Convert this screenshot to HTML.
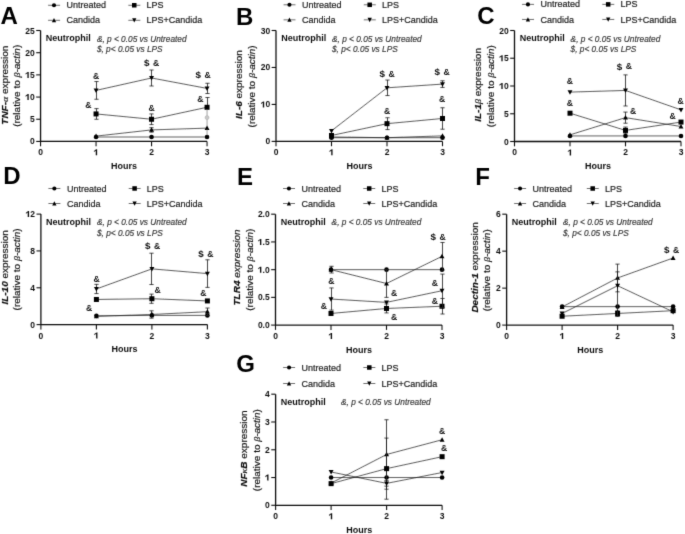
<!DOCTYPE html>
<html><head><meta charset="utf-8"><style>
html,body{margin:0;padding:0;background:#fff;}
svg{display:block;font-family:"Liberation Sans", sans-serif;}
text{stroke-width:0.18px;}
</style></head><body>
<svg width="685" height="534" viewBox="0 0 685 534">
<defs><filter id="bl" x="0" y="0" width="100%" height="100%" filterUnits="userSpaceOnUse"><feConvolveMatrix order="3" kernelMatrix="0.01134 0.08382 0.01134 0.08382 0.61935 0.08382 0.01134 0.08382 0.01134" edgeMode="duplicate" preserveAlpha="false"/></filter></defs>
<rect width="685" height="534" fill="#fff"/>
<g filter="url(#bl)">
<text x="0.4" y="23.8" font-size="24" font-weight="bold" fill="#000">A</text>
<line x1="48.10" y1="5.26" x2="60.05" y2="5.26" stroke="#333" stroke-width="0.7"/>
<circle cx="54.00" cy="5.26" r="2.05" fill="#000"/>
<text transform="translate(66.55,8.36) scale(1,1.1)" x="0" y="0" font-size="9.0" fill="#1a1a1a" stroke="#1a1a1a">Untreated</text>
<line x1="48.10" y1="20.30" x2="60.05" y2="20.30" stroke="#333" stroke-width="0.7"/>
<path d="M54.00,18.00 L56.15,22.30 L51.85,22.30 Z" fill="#000"/>
<text transform="translate(66.55,23.40) scale(1,1.1)" x="0" y="0" font-size="9.0" fill="#1a1a1a" stroke="#1a1a1a">Candida</text>
<line x1="128.35" y1="5.26" x2="140.30" y2="5.26" stroke="#333" stroke-width="0.7"/>
<rect x="132.00" y="3.01" width="4.50" height="4.50" fill="#000"/>
<text transform="translate(146.45,8.36) scale(1,1.1)" x="0" y="0" font-size="9.0" fill="#1a1a1a" stroke="#1a1a1a">LPS</text>
<line x1="128.35" y1="20.30" x2="140.30" y2="20.30" stroke="#333" stroke-width="0.7"/>
<path d="M134.25,22.60 L136.40,18.30 L132.10,18.30 Z" fill="#000"/>
<text transform="translate(146.45,23.40) scale(1,1.1)" x="0" y="0" font-size="9.0" fill="#1a1a1a" stroke="#1a1a1a">LPS+Candida</text>
<text x="45.75" y="41.00" font-size="9.0" font-weight="bold" fill="#111">Neutrophil</text>
<text x="96.90" y="41.70" font-size="8.3" font-style="italic" fill="#3a3a3a" stroke="#3a3a3a">&amp;, p &lt; 0.05 vs Untreated</text>
<text x="96.90" y="51.90" font-size="8.3" font-style="italic" fill="#3a3a3a" stroke="#3a3a3a">$, p&lt; 0.05 vs LPS</text>
<path d="M40.55,30.50 L40.55,141.45 L207.05,141.45" fill="none" stroke="#111" stroke-width="1.3"/>
<line x1="36.20" y1="141.45" x2="40.55" y2="141.45" stroke="#111" stroke-width="1.1"/>
<text x="30.02" y="144.45" font-size="8.5" font-weight="bold" fill="#111" xml:space="preserve">0</text>
<line x1="36.20" y1="119.26" x2="40.55" y2="119.26" stroke="#111" stroke-width="1.1"/>
<text x="30.02" y="122.26" font-size="8.5" font-weight="bold" fill="#111" xml:space="preserve">5</text>
<line x1="36.20" y1="97.07" x2="40.55" y2="97.07" stroke="#111" stroke-width="1.1"/>
<text x="25.30" y="100.07" font-size="8.5" font-weight="bold" fill="#111" xml:space="preserve"> 0</text><path d="M27.38,100.07 L28.74,100.07 L28.74,94.09 L27.76,94.09 L25.55,95.65 L25.55,96.75 L27.38,95.44 Z" fill="#111"/>
<line x1="36.20" y1="74.88" x2="40.55" y2="74.88" stroke="#111" stroke-width="1.1"/>
<text x="25.30" y="77.88" font-size="8.5" font-weight="bold" fill="#111" xml:space="preserve"> 5</text><path d="M27.38,77.88 L28.74,77.88 L28.74,71.90 L27.76,71.90 L25.55,73.46 L25.55,74.56 L27.38,73.25 Z" fill="#111"/>
<line x1="36.20" y1="52.69" x2="40.55" y2="52.69" stroke="#111" stroke-width="1.1"/>
<text x="25.30" y="55.69" font-size="8.5" font-weight="bold" fill="#111" xml:space="preserve">20</text>
<line x1="36.20" y1="30.50" x2="40.55" y2="30.50" stroke="#111" stroke-width="1.1"/>
<text x="25.30" y="33.50" font-size="8.5" font-weight="bold" fill="#111" xml:space="preserve">25</text>
<line x1="40.55" y1="141.45" x2="40.55" y2="146.25" stroke="#111" stroke-width="1.1"/>
<text x="38.19" y="155.35" font-size="8.5" font-weight="bold" fill="#111" xml:space="preserve">0</text>
<line x1="96.05" y1="141.45" x2="96.05" y2="146.25" stroke="#111" stroke-width="1.1"/>
<text x="93.69" y="155.35" font-size="8.5" font-weight="bold" fill="#111" xml:space="preserve"> </text><path d="M95.77,155.35 L97.13,155.35 L97.13,149.37 L96.15,149.37 L93.94,150.93 L93.94,152.03 L95.77,150.72 Z" fill="#111"/>
<line x1="151.55" y1="141.45" x2="151.55" y2="146.25" stroke="#111" stroke-width="1.1"/>
<text x="149.19" y="155.35" font-size="8.5" font-weight="bold" fill="#111" xml:space="preserve">2</text>
<line x1="207.05" y1="141.45" x2="207.05" y2="146.25" stroke="#111" stroke-width="1.1"/>
<text x="204.69" y="155.35" font-size="8.5" font-weight="bold" fill="#111" xml:space="preserve">3</text>
<text transform="translate(124.10,169.05) scale(1,1.1)" x="0" y="0" font-size="9.0" font-weight="bold" text-anchor="middle" fill="#111">Hours</text>
<text transform="translate(8.30,85.20) rotate(-90) scale(1.11,1)" text-anchor="middle" font-size="9.0" fill="#111" stroke="#111"><tspan font-style="italic" font-weight="bold">TNF-</tspan><tspan font-style="italic" font-family="Liberation Serif, serif">α</tspan><tspan > expression</tspan></text>
<text transform="translate(19.50,85.80) rotate(-90) scale(1.11,1)" text-anchor="middle" font-size="9.0" fill="#111" stroke="#111">(relative to <tspan font-style="italic" font-family="Liberation Serif, serif">β</tspan><tspan font-style="italic">-actin</tspan>)</text>
<line x1="207.05" y1="107.28" x2="207.05" y2="137.01" stroke="#888" stroke-width="0.8"/><circle cx="207.05" cy="117.6" r="2.0" fill="#c8c8c8" stroke="#aaa" stroke-width="0.5"/>
<polyline points="96.05,137.01 151.55,137.01 207.05,137.01" fill="none" stroke="#1a1a1a" stroke-width="0.7"/>
<circle cx="96.05" cy="137.01" r="2.30" fill="#000"/>
<circle cx="151.55" cy="137.01" r="2.30" fill="#000"/>
<circle cx="207.05" cy="137.01" r="2.30" fill="#000"/>
<polyline points="96.05,136.12 151.55,129.91 207.05,128.14" fill="none" stroke="#1a1a1a" stroke-width="0.7"/>
<path d="M151.50,127.69 L151.50,132.13 M149.40,127.69 L153.60,127.69 M149.40,132.13 L153.60,132.13" stroke="#1a1a1a" stroke-width="0.8" fill="none"/>
<path d="M96.05,133.52 L98.50,138.02 L93.60,138.02 Z" fill="#000"/>
<path d="M151.55,127.31 L154.00,131.81 L149.10,131.81 Z" fill="#000"/>
<path d="M207.05,125.54 L209.50,130.04 L204.60,130.04 Z" fill="#000"/>
<polyline points="96.05,113.93 151.55,119.26 207.05,107.28" fill="none" stroke="#1a1a1a" stroke-width="0.7"/>
<path d="M96.50,108.61 L96.50,119.26 M94.40,108.61 L98.60,108.61 M94.40,119.26 L98.60,119.26" stroke="#1a1a1a" stroke-width="0.8" fill="none"/>
<path d="M151.50,113.93 L151.50,124.59 M149.40,113.93 L153.60,113.93 M149.40,124.59 L153.60,124.59" stroke="#1a1a1a" stroke-width="0.8" fill="none"/>
<path d="M207.50,97.51 L207.50,107.28 M205.40,97.51 L209.60,97.51" stroke="#1a1a1a" stroke-width="0.8" fill="none"/>
<rect x="93.55" y="111.43" width="5.00" height="5.00" fill="#000"/>
<rect x="149.05" y="116.76" width="5.00" height="5.00" fill="#000"/>
<rect x="204.55" y="104.78" width="5.00" height="5.00" fill="#000"/>
<polyline points="96.05,90.41 151.55,77.99 207.05,88.42" fill="none" stroke="#1a1a1a" stroke-width="0.7"/>
<path d="M96.50,81.54 L96.50,99.29 M94.40,81.54 L98.60,81.54 M94.40,99.29 L98.60,99.29" stroke="#1a1a1a" stroke-width="0.8" fill="none"/>
<path d="M151.50,70.00 L151.50,85.97 M149.40,70.00 L153.60,70.00 M149.40,85.97 L153.60,85.97" stroke="#1a1a1a" stroke-width="0.8" fill="none"/>
<path d="M207.50,83.31 L207.50,93.52 M205.40,83.31 L209.60,83.31 M205.40,93.52 L209.60,93.52" stroke="#1a1a1a" stroke-width="0.8" fill="none"/>
<path d="M96.05,93.01 L98.50,88.51 L93.60,88.51 Z" fill="#000"/>
<path d="M151.55,80.59 L154.00,76.09 L149.10,76.09 Z" fill="#000"/>
<path d="M207.05,91.02 L209.50,86.52 L204.60,86.52 Z" fill="#000"/>
<text x="96.00" y="79.10" font-size="8.6" font-weight="bold" text-anchor="middle" fill="#111">&amp;</text>
<text x="88.40" y="108.10" font-size="8.6" font-weight="bold" text-anchor="middle" fill="#111">&amp;</text>
<text x="146.65" y="66.35" font-size="9.8" font-weight="bold" text-anchor="middle" fill="#111">$</text>
<text x="156.00" y="66.10" font-size="8.6" font-weight="bold" text-anchor="middle" fill="#111">&amp;</text>
<text x="151.60" y="110.50" font-size="8.6" font-weight="bold" text-anchor="middle" fill="#111">&amp;</text>
<text x="198.25" y="78.35" font-size="9.8" font-weight="bold" text-anchor="middle" fill="#111">$</text>
<text x="207.60" y="78.10" font-size="8.6" font-weight="bold" text-anchor="middle" fill="#111">&amp;</text>
<text x="200.40" y="102.30" font-size="8.6" font-weight="bold" text-anchor="middle" fill="#111">&amp;</text>
<text x="236.1" y="24.5" font-size="24" font-weight="bold" fill="#000">B</text>
<line x1="283.55" y1="4.80" x2="295.50" y2="4.80" stroke="#333" stroke-width="0.7"/>
<circle cx="289.45" cy="4.80" r="2.05" fill="#000"/>
<text transform="translate(302.00,7.90) scale(1,1.1)" x="0" y="0" font-size="9.0" fill="#1a1a1a" stroke="#1a1a1a">Untreated</text>
<line x1="283.55" y1="19.85" x2="295.50" y2="19.85" stroke="#333" stroke-width="0.7"/>
<path d="M289.45,17.55 L291.60,21.85 L287.30,21.85 Z" fill="#000"/>
<text transform="translate(302.00,22.95) scale(1,1.1)" x="0" y="0" font-size="9.0" fill="#1a1a1a" stroke="#1a1a1a">Candida</text>
<line x1="363.80" y1="4.80" x2="375.75" y2="4.80" stroke="#333" stroke-width="0.7"/>
<rect x="367.45" y="2.55" width="4.50" height="4.50" fill="#000"/>
<text transform="translate(381.90,7.90) scale(1,1.1)" x="0" y="0" font-size="9.0" fill="#1a1a1a" stroke="#1a1a1a">LPS</text>
<line x1="363.80" y1="19.85" x2="375.75" y2="19.85" stroke="#333" stroke-width="0.7"/>
<path d="M369.70,22.15 L371.85,17.85 L367.55,17.85 Z" fill="#000"/>
<text transform="translate(381.90,22.95) scale(1,1.1)" x="0" y="0" font-size="9.0" fill="#1a1a1a" stroke="#1a1a1a">LPS+Candida</text>
<text x="281.20" y="41.00" font-size="9.0" font-weight="bold" fill="#111">Neutrophil</text>
<text x="332.00" y="41.70" font-size="8.3" font-style="italic" fill="#3a3a3a" stroke="#3a3a3a">&amp;, p &lt; 0.05 vs Untreated</text>
<text x="332.00" y="51.90" font-size="8.3" font-style="italic" fill="#3a3a3a" stroke="#3a3a3a">$, p&lt; 0.05 vs LPS</text>
<path d="M276.00,30.50 L276.00,141.40 L442.50,141.40" fill="none" stroke="#111" stroke-width="1.3"/>
<line x1="271.65" y1="141.40" x2="276.00" y2="141.40" stroke="#111" stroke-width="1.1"/>
<text x="265.47" y="144.40" font-size="8.5" font-weight="bold" fill="#111" xml:space="preserve">0</text>
<line x1="271.65" y1="104.43" x2="276.00" y2="104.43" stroke="#111" stroke-width="1.1"/>
<text x="260.75" y="107.43" font-size="8.5" font-weight="bold" fill="#111" xml:space="preserve"> 0</text><path d="M262.83,107.43 L264.19,107.43 L264.19,101.46 L263.21,101.46 L261.00,103.01 L261.00,104.12 L262.83,102.80 Z" fill="#111"/>
<line x1="271.65" y1="67.47" x2="276.00" y2="67.47" stroke="#111" stroke-width="1.1"/>
<text x="260.75" y="70.47" font-size="8.5" font-weight="bold" fill="#111" xml:space="preserve">20</text>
<line x1="271.65" y1="30.50" x2="276.00" y2="30.50" stroke="#111" stroke-width="1.1"/>
<text x="260.75" y="33.50" font-size="8.5" font-weight="bold" fill="#111" xml:space="preserve">30</text>
<line x1="276.00" y1="141.40" x2="276.00" y2="146.20" stroke="#111" stroke-width="1.1"/>
<text x="273.64" y="155.30" font-size="8.5" font-weight="bold" fill="#111" xml:space="preserve">0</text>
<line x1="331.50" y1="141.40" x2="331.50" y2="146.20" stroke="#111" stroke-width="1.1"/>
<text x="329.14" y="155.30" font-size="8.5" font-weight="bold" fill="#111" xml:space="preserve"> </text><path d="M331.22,155.30 L332.58,155.30 L332.58,149.32 L331.60,149.32 L329.39,150.88 L329.39,151.99 L331.22,150.67 Z" fill="#111"/>
<line x1="387.00" y1="141.40" x2="387.00" y2="146.20" stroke="#111" stroke-width="1.1"/>
<text x="384.64" y="155.30" font-size="8.5" font-weight="bold" fill="#111" xml:space="preserve">2</text>
<line x1="442.50" y1="141.40" x2="442.50" y2="146.20" stroke="#111" stroke-width="1.1"/>
<text x="440.14" y="155.30" font-size="8.5" font-weight="bold" fill="#111" xml:space="preserve">3</text>
<text transform="translate(359.55,169.00) scale(1,1.1)" x="0" y="0" font-size="9.0" font-weight="bold" text-anchor="middle" fill="#111">Hours</text>
<text transform="translate(242.30,84.60) rotate(-90) scale(1.11,1)" text-anchor="middle" font-size="9.0" fill="#111" stroke="#111"><tspan font-style="italic" font-weight="bold">IL-6</tspan><tspan > expression</tspan></text>
<text transform="translate(254.70,86.40) rotate(-90) scale(1.11,1)" text-anchor="middle" font-size="9.0" fill="#111" stroke="#111">(relative to <tspan font-style="italic" font-family="Liberation Serif, serif">β</tspan><tspan font-style="italic">-actin</tspan>)</text>
<polyline points="331.50,137.70 387.00,137.70 442.50,137.70" fill="none" stroke="#1a1a1a" stroke-width="0.7"/>
<circle cx="331.50" cy="137.70" r="2.30" fill="#000"/>
<circle cx="387.00" cy="137.70" r="2.30" fill="#000"/>
<circle cx="442.50" cy="137.70" r="2.30" fill="#000"/>
<polyline points="331.50,136.96 387.00,137.70 442.50,135.86" fill="none" stroke="#1a1a1a" stroke-width="0.7"/>
<path d="M331.50,134.36 L333.95,138.86 L329.05,138.86 Z" fill="#000"/>
<path d="M387.00,135.10 L389.45,139.60 L384.55,139.60 Z" fill="#000"/>
<path d="M442.50,133.26 L444.95,137.76 L440.05,137.76 Z" fill="#000"/>
<polyline points="331.50,135.49 387.00,123.66 442.50,118.48" fill="none" stroke="#1a1a1a" stroke-width="0.7"/>
<path d="M387.50,117.74 L387.50,129.57 M385.40,117.74 L389.60,117.74 M385.40,129.57 L389.60,129.57" stroke="#1a1a1a" stroke-width="0.8" fill="none"/>
<path d="M442.50,107.76 L442.50,129.20 M440.40,107.76 L444.60,107.76 M440.40,129.20 L444.60,129.20" stroke="#1a1a1a" stroke-width="0.8" fill="none"/>
<rect x="329.00" y="132.99" width="5.00" height="5.00" fill="#000"/>
<rect x="384.50" y="121.16" width="5.00" height="5.00" fill="#000"/>
<rect x="440.00" y="115.98" width="5.00" height="5.00" fill="#000"/>
<polyline points="331.50,130.83 387.00,87.80 442.50,84.10" fill="none" stroke="#1a1a1a" stroke-width="0.7"/>
<path d="M387.50,80.04 L387.50,95.56 M385.40,80.04 L389.60,80.04 M385.40,95.56 L389.60,95.56" stroke="#1a1a1a" stroke-width="0.8" fill="none"/>
<path d="M442.50,80.77 L442.50,87.43 M440.40,80.77 L444.60,80.77 M440.40,87.43 L444.60,87.43" stroke="#1a1a1a" stroke-width="0.8" fill="none"/>
<path d="M331.50,133.43 L333.95,128.93 L329.05,128.93 Z" fill="#000"/>
<path d="M387.00,90.40 L389.45,85.90 L384.55,85.90 Z" fill="#000"/>
<path d="M442.50,86.70 L444.95,82.20 L440.05,82.20 Z" fill="#000"/>
<text x="382.25" y="77.25" font-size="9.8" font-weight="bold" text-anchor="middle" fill="#111">$</text>
<text x="391.60" y="77.00" font-size="8.6" font-weight="bold" text-anchor="middle" fill="#111">&amp;</text>
<text x="437.25" y="75.05" font-size="9.8" font-weight="bold" text-anchor="middle" fill="#111">$</text>
<text x="446.60" y="74.80" font-size="8.6" font-weight="bold" text-anchor="middle" fill="#111">&amp;</text>
<text x="387.00" y="113.80" font-size="8.6" font-weight="bold" text-anchor="middle" fill="#111">&amp;</text>
<text x="442.00" y="102.10" font-size="8.6" font-weight="bold" text-anchor="middle" fill="#111">&amp;</text>
<text x="477.3" y="24.3" font-size="24" font-weight="bold" fill="#000">C</text>
<line x1="522.05" y1="4.38" x2="534.00" y2="4.38" stroke="#333" stroke-width="0.7"/>
<circle cx="527.95" cy="4.38" r="2.05" fill="#000"/>
<text transform="translate(540.50,7.48) scale(1,1.1)" x="0" y="0" font-size="9.0" fill="#1a1a1a" stroke="#1a1a1a">Untreated</text>
<line x1="522.05" y1="19.45" x2="534.00" y2="19.45" stroke="#333" stroke-width="0.7"/>
<path d="M527.95,17.15 L530.10,21.45 L525.80,21.45 Z" fill="#000"/>
<text transform="translate(540.50,22.55) scale(1,1.1)" x="0" y="0" font-size="9.0" fill="#1a1a1a" stroke="#1a1a1a">Candida</text>
<line x1="602.30" y1="4.38" x2="614.25" y2="4.38" stroke="#333" stroke-width="0.7"/>
<rect x="605.95" y="2.13" width="4.50" height="4.50" fill="#000"/>
<text transform="translate(620.40,7.48) scale(1,1.1)" x="0" y="0" font-size="9.0" fill="#1a1a1a" stroke="#1a1a1a">LPS</text>
<line x1="602.30" y1="19.45" x2="614.25" y2="19.45" stroke="#333" stroke-width="0.7"/>
<path d="M608.20,21.75 L610.35,17.45 L606.05,17.45 Z" fill="#000"/>
<text transform="translate(620.40,22.55) scale(1,1.1)" x="0" y="0" font-size="9.0" fill="#1a1a1a" stroke="#1a1a1a">LPS+Candida</text>
<text x="519.70" y="41.00" font-size="9.0" font-weight="bold" fill="#111">Neutrophil</text>
<text x="570.60" y="41.70" font-size="8.3" font-style="italic" fill="#3a3a3a" stroke="#3a3a3a">&amp;, p &lt; 0.05 vs Untreated</text>
<text x="570.60" y="51.90" font-size="8.3" font-style="italic" fill="#3a3a3a" stroke="#3a3a3a">$, p&lt; 0.05 vs LPS</text>
<path d="M514.50,30.50 L514.50,141.50 L681.00,141.50" fill="none" stroke="#111" stroke-width="1.3"/>
<line x1="510.15" y1="141.50" x2="514.50" y2="141.50" stroke="#111" stroke-width="1.1"/>
<text x="503.97" y="144.50" font-size="8.5" font-weight="bold" fill="#111" xml:space="preserve">0</text>
<line x1="510.15" y1="113.75" x2="514.50" y2="113.75" stroke="#111" stroke-width="1.1"/>
<text x="503.97" y="116.75" font-size="8.5" font-weight="bold" fill="#111" xml:space="preserve">5</text>
<line x1="510.15" y1="86.00" x2="514.50" y2="86.00" stroke="#111" stroke-width="1.1"/>
<text x="499.25" y="89.00" font-size="8.5" font-weight="bold" fill="#111" xml:space="preserve"> 0</text><path d="M501.33,89.00 L502.69,89.00 L502.69,83.02 L501.71,83.02 L499.50,84.58 L499.50,85.69 L501.33,84.37 Z" fill="#111"/>
<line x1="510.15" y1="58.25" x2="514.50" y2="58.25" stroke="#111" stroke-width="1.1"/>
<text x="499.25" y="61.25" font-size="8.5" font-weight="bold" fill="#111" xml:space="preserve"> 5</text><path d="M501.33,61.25 L502.69,61.25 L502.69,55.27 L501.71,55.27 L499.50,56.83 L499.50,57.94 L501.33,56.62 Z" fill="#111"/>
<line x1="510.15" y1="30.50" x2="514.50" y2="30.50" stroke="#111" stroke-width="1.1"/>
<text x="499.25" y="33.50" font-size="8.5" font-weight="bold" fill="#111" xml:space="preserve">20</text>
<line x1="514.50" y1="141.50" x2="514.50" y2="146.30" stroke="#111" stroke-width="1.1"/>
<text x="512.14" y="155.40" font-size="8.5" font-weight="bold" fill="#111" xml:space="preserve">0</text>
<line x1="570.00" y1="141.50" x2="570.00" y2="146.30" stroke="#111" stroke-width="1.1"/>
<text x="567.64" y="155.40" font-size="8.5" font-weight="bold" fill="#111" xml:space="preserve"> </text><path d="M569.72,155.40 L571.08,155.40 L571.08,149.42 L570.10,149.42 L567.89,150.98 L567.89,152.09 L569.72,150.77 Z" fill="#111"/>
<line x1="625.50" y1="141.50" x2="625.50" y2="146.30" stroke="#111" stroke-width="1.1"/>
<text x="623.14" y="155.40" font-size="8.5" font-weight="bold" fill="#111" xml:space="preserve">2</text>
<line x1="681.00" y1="141.50" x2="681.00" y2="146.30" stroke="#111" stroke-width="1.1"/>
<text x="678.64" y="155.40" font-size="8.5" font-weight="bold" fill="#111" xml:space="preserve">3</text>
<text transform="translate(598.05,169.10) scale(1,1.1)" x="0" y="0" font-size="9.0" font-weight="bold" text-anchor="middle" fill="#111">Hours</text>
<text transform="translate(481.40,84.90) rotate(-90) scale(1.11,1)" text-anchor="middle" font-size="9.0" fill="#111" stroke="#111"><tspan font-style="italic" font-weight="bold">IL-1</tspan><tspan font-style="italic" font-family="Liberation Serif, serif">β</tspan><tspan > expression</tspan></text>
<text transform="translate(493.90,86.10) rotate(-90) scale(1.11,1)" text-anchor="middle" font-size="9.0" fill="#111" stroke="#111">(relative to <tspan font-style="italic" font-family="Liberation Serif, serif">β</tspan><tspan font-style="italic">-actin</tspan>)</text>
<polyline points="570.00,135.95 625.50,135.95 681.00,135.95" fill="none" stroke="#1a1a1a" stroke-width="0.7"/>
<circle cx="570.00" cy="135.95" r="2.30" fill="#000"/>
<circle cx="625.50" cy="135.95" r="2.30" fill="#000"/>
<circle cx="681.00" cy="135.95" r="2.30" fill="#000"/>
<polyline points="570.00,134.84 625.50,117.64 681.00,126.52" fill="none" stroke="#1a1a1a" stroke-width="0.7"/>
<path d="M625.50,112.09 L625.50,123.19 M623.40,112.09 L627.60,112.09 M623.40,123.19 L627.60,123.19" stroke="#1a1a1a" stroke-width="0.8" fill="none"/>
<path d="M570.00,132.24 L572.45,136.74 L567.55,136.74 Z" fill="#000"/>
<path d="M625.50,115.04 L627.95,119.54 L623.05,119.54 Z" fill="#000"/>
<path d="M681.00,123.92 L683.45,128.41 L678.55,128.41 Z" fill="#000"/>
<polyline points="570.00,113.20 625.50,130.40 681.00,122.08" fill="none" stroke="#1a1a1a" stroke-width="0.7"/>
<path d="M625.50,127.07 L625.50,133.73 M623.40,127.07 L627.60,127.07 M623.40,133.73 L627.60,133.73" stroke="#1a1a1a" stroke-width="0.8" fill="none"/>
<rect x="567.50" y="110.70" width="5.00" height="5.00" fill="#000"/>
<rect x="623.00" y="127.90" width="5.00" height="5.00" fill="#000"/>
<rect x="678.50" y="119.58" width="5.00" height="5.00" fill="#000"/>
<polyline points="570.00,92.10 625.50,90.44 681.00,109.86" fill="none" stroke="#1a1a1a" stroke-width="0.7"/>
<path d="M625.50,74.90 L625.50,105.98 M623.40,74.90 L627.60,74.90 M623.40,105.98 L627.60,105.98" stroke="#1a1a1a" stroke-width="0.8" fill="none"/>
<path d="M570.00,94.70 L572.45,90.20 L567.55,90.20 Z" fill="#000"/>
<path d="M625.50,93.04 L627.95,88.54 L623.05,88.54 Z" fill="#000"/>
<path d="M681.00,112.46 L683.45,107.96 L678.55,107.96 Z" fill="#000"/>
<text x="569.90" y="83.80" font-size="8.6" font-weight="bold" text-anchor="middle" fill="#111">&amp;</text>
<text x="569.90" y="106.20" font-size="8.6" font-weight="bold" text-anchor="middle" fill="#111">&amp;</text>
<text x="619.45" y="69.65" font-size="9.8" font-weight="bold" text-anchor="middle" fill="#111">$</text>
<text x="628.80" y="69.40" font-size="8.6" font-weight="bold" text-anchor="middle" fill="#111">&amp;</text>
<text x="633.20" y="114.10" font-size="8.6" font-weight="bold" text-anchor="middle" fill="#111">&amp;</text>
<text x="680.50" y="103.60" font-size="8.6" font-weight="bold" text-anchor="middle" fill="#111">&amp;</text>
<text x="672.60" y="119.30" font-size="8.6" font-weight="bold" text-anchor="middle" fill="#111">&amp;</text>
<text x="3.2" y="183.9" font-size="24" font-weight="bold" fill="#000">D</text>
<line x1="48.45" y1="188.47" x2="60.40" y2="188.47" stroke="#333" stroke-width="0.7"/>
<circle cx="54.35" cy="188.47" r="2.05" fill="#000"/>
<text transform="translate(66.90,191.57) scale(1,1.1)" x="0" y="0" font-size="9.0" fill="#1a1a1a" stroke="#1a1a1a">Untreated</text>
<line x1="48.45" y1="203.50" x2="60.40" y2="203.50" stroke="#333" stroke-width="0.7"/>
<path d="M54.35,201.20 L56.50,205.50 L52.20,205.50 Z" fill="#000"/>
<text transform="translate(66.90,206.60) scale(1,1.1)" x="0" y="0" font-size="9.0" fill="#1a1a1a" stroke="#1a1a1a">Candida</text>
<line x1="128.70" y1="188.47" x2="140.65" y2="188.47" stroke="#333" stroke-width="0.7"/>
<rect x="132.35" y="186.22" width="4.50" height="4.50" fill="#000"/>
<text transform="translate(146.80,191.57) scale(1,1.1)" x="0" y="0" font-size="9.0" fill="#1a1a1a" stroke="#1a1a1a">LPS</text>
<line x1="128.70" y1="203.50" x2="140.65" y2="203.50" stroke="#333" stroke-width="0.7"/>
<path d="M134.60,205.80 L136.75,201.50 L132.45,201.50 Z" fill="#000"/>
<text transform="translate(146.80,206.60) scale(1,1.1)" x="0" y="0" font-size="9.0" fill="#1a1a1a" stroke="#1a1a1a">LPS+Candida</text>
<text x="46.10" y="224.60" font-size="9.0" font-weight="bold" fill="#111">Neutrophil</text>
<text x="97.00" y="225.30" font-size="8.3" font-style="italic" fill="#3a3a3a" stroke="#3a3a3a">&amp;, p &lt; 0.05 vs Untreated</text>
<text x="97.00" y="235.50" font-size="8.3" font-style="italic" fill="#3a3a3a" stroke="#3a3a3a">$, p&lt; 0.05 vs LPS</text>
<path d="M40.90,214.10 L40.90,324.60 L207.40,324.60" fill="none" stroke="#111" stroke-width="1.3"/>
<line x1="36.55" y1="324.60" x2="40.90" y2="324.60" stroke="#111" stroke-width="1.1"/>
<text x="30.37" y="327.60" font-size="8.5" font-weight="bold" fill="#111" xml:space="preserve">0</text>
<line x1="36.55" y1="287.77" x2="40.90" y2="287.77" stroke="#111" stroke-width="1.1"/>
<text x="30.37" y="290.77" font-size="8.5" font-weight="bold" fill="#111" xml:space="preserve">4</text>
<line x1="36.55" y1="250.93" x2="40.90" y2="250.93" stroke="#111" stroke-width="1.1"/>
<text x="30.37" y="253.93" font-size="8.5" font-weight="bold" fill="#111" xml:space="preserve">8</text>
<line x1="36.55" y1="214.10" x2="40.90" y2="214.10" stroke="#111" stroke-width="1.1"/>
<text x="25.65" y="217.10" font-size="8.5" font-weight="bold" fill="#111" xml:space="preserve"> 2</text><path d="M27.73,217.10 L29.09,217.10 L29.09,211.12 L28.11,211.12 L25.90,212.68 L25.90,213.78 L27.73,212.47 Z" fill="#111"/>
<line x1="40.90" y1="324.60" x2="40.90" y2="329.40" stroke="#111" stroke-width="1.1"/>
<text x="38.54" y="338.50" font-size="8.5" font-weight="bold" fill="#111" xml:space="preserve">0</text>
<line x1="96.40" y1="324.60" x2="96.40" y2="329.40" stroke="#111" stroke-width="1.1"/>
<text x="94.04" y="338.50" font-size="8.5" font-weight="bold" fill="#111" xml:space="preserve"> </text><path d="M96.12,338.50 L97.48,338.50 L97.48,332.52 L96.50,332.52 L94.29,334.08 L94.29,335.19 L96.12,333.87 Z" fill="#111"/>
<line x1="151.90" y1="324.60" x2="151.90" y2="329.40" stroke="#111" stroke-width="1.1"/>
<text x="149.54" y="338.50" font-size="8.5" font-weight="bold" fill="#111" xml:space="preserve">2</text>
<line x1="207.40" y1="324.60" x2="207.40" y2="329.40" stroke="#111" stroke-width="1.1"/>
<text x="205.04" y="338.50" font-size="8.5" font-weight="bold" fill="#111" xml:space="preserve">3</text>
<text transform="translate(124.45,352.20) scale(1,1.1)" x="0" y="0" font-size="9.0" font-weight="bold" text-anchor="middle" fill="#111">Hours</text>
<text transform="translate(7.90,267.40) rotate(-90) scale(1.11,1)" text-anchor="middle" font-size="9.0" fill="#111" stroke="#111"><tspan font-style="italic" font-weight="bold">IL-10</tspan><tspan > expression</tspan></text>
<text transform="translate(19.60,269.40) rotate(-90) scale(1.11,1)" text-anchor="middle" font-size="9.0" fill="#111" stroke="#111">(relative to <tspan font-style="italic" font-family="Liberation Serif, serif">β</tspan><tspan font-style="italic">-actin</tspan>)</text>
<polyline points="96.40,315.85 151.90,315.39 207.40,315.39" fill="none" stroke="#1a1a1a" stroke-width="0.7"/>
<circle cx="96.40" cy="315.85" r="2.30" fill="#000"/>
<circle cx="151.90" cy="315.39" r="2.30" fill="#000"/>
<circle cx="207.40" cy="315.39" r="2.30" fill="#000"/>
<polyline points="96.40,316.31 151.90,314.47 207.40,311.71" fill="none" stroke="#1a1a1a" stroke-width="0.7"/>
<path d="M151.50,310.79 L151.50,318.15 M149.40,310.79 L153.60,310.79 M149.40,318.15 L153.60,318.15" stroke="#1a1a1a" stroke-width="0.8" fill="none"/>
<path d="M207.50,308.03 L207.50,315.39 M205.40,308.03 L209.60,308.03 M205.40,315.39 L209.60,315.39" stroke="#1a1a1a" stroke-width="0.8" fill="none"/>
<path d="M96.40,313.71 L98.85,318.21 L93.95,318.21 Z" fill="#000"/>
<path d="M151.90,311.87 L154.35,316.37 L149.45,316.37 Z" fill="#000"/>
<path d="M207.40,309.11 L209.85,313.61 L204.95,313.61 Z" fill="#000"/>
<polyline points="96.40,299.46 151.90,298.72 207.40,300.93" fill="none" stroke="#1a1a1a" stroke-width="0.7"/>
<path d="M151.50,294.12 L151.50,303.33 M149.40,294.12 L153.60,294.12 M149.40,303.33 L153.60,303.33" stroke="#1a1a1a" stroke-width="0.8" fill="none"/>
<rect x="93.90" y="296.96" width="5.00" height="5.00" fill="#000"/>
<rect x="149.40" y="296.22" width="5.00" height="5.00" fill="#000"/>
<rect x="204.90" y="298.43" width="5.00" height="5.00" fill="#000"/>
<polyline points="96.40,288.96 151.90,268.89 207.40,273.59" fill="none" stroke="#1a1a1a" stroke-width="0.7"/>
<path d="M96.50,284.36 L96.50,293.57 M94.40,284.36 L98.60,284.36 M94.40,293.57 L98.60,293.57" stroke="#1a1a1a" stroke-width="0.8" fill="none"/>
<path d="M151.50,253.24 L151.50,284.54 M149.40,253.24 L153.60,253.24 M149.40,284.54 L153.60,284.54" stroke="#1a1a1a" stroke-width="0.8" fill="none"/>
<path d="M207.50,259.77 L207.50,287.40 M205.40,259.77 L209.60,259.77 M205.40,287.40 L209.60,287.40" stroke="#1a1a1a" stroke-width="0.8" fill="none"/>
<path d="M96.40,291.56 L98.85,287.06 L93.95,287.06 Z" fill="#000"/>
<path d="M151.90,271.49 L154.35,266.99 L149.45,266.99 Z" fill="#000"/>
<path d="M207.40,276.19 L209.85,271.69 L204.95,271.69 Z" fill="#000"/>
<text x="96.60" y="281.60" font-size="8.6" font-weight="bold" text-anchor="middle" fill="#111">&amp;</text>
<text x="89.00" y="311.30" font-size="8.6" font-weight="bold" text-anchor="middle" fill="#111">&amp;</text>
<text x="147.75" y="249.15" font-size="9.8" font-weight="bold" text-anchor="middle" fill="#111">$</text>
<text x="157.10" y="248.90" font-size="8.6" font-weight="bold" text-anchor="middle" fill="#111">&amp;</text>
<text x="157.60" y="292.50" font-size="8.6" font-weight="bold" text-anchor="middle" fill="#111">&amp;</text>
<text x="200.95" y="256.95" font-size="9.8" font-weight="bold" text-anchor="middle" fill="#111">$</text>
<text x="210.30" y="256.70" font-size="8.6" font-weight="bold" text-anchor="middle" fill="#111">&amp;</text>
<text x="203.40" y="296.10" font-size="8.6" font-weight="bold" text-anchor="middle" fill="#111">&amp;</text>
<text x="236.9" y="184.6" font-size="24" font-weight="bold" fill="#000">E</text>
<line x1="283.05" y1="188.50" x2="295.00" y2="188.50" stroke="#333" stroke-width="0.7"/>
<circle cx="288.95" cy="188.50" r="2.05" fill="#000"/>
<text transform="translate(301.50,191.60) scale(1,1.1)" x="0" y="0" font-size="9.0" fill="#1a1a1a" stroke="#1a1a1a">Untreated</text>
<line x1="283.05" y1="203.50" x2="295.00" y2="203.50" stroke="#333" stroke-width="0.7"/>
<path d="M288.95,201.20 L291.10,205.50 L286.80,205.50 Z" fill="#000"/>
<text transform="translate(301.50,206.60) scale(1,1.1)" x="0" y="0" font-size="9.0" fill="#1a1a1a" stroke="#1a1a1a">Candida</text>
<line x1="363.30" y1="188.50" x2="375.25" y2="188.50" stroke="#333" stroke-width="0.7"/>
<rect x="366.95" y="186.25" width="4.50" height="4.50" fill="#000"/>
<text transform="translate(381.40,191.60) scale(1,1.1)" x="0" y="0" font-size="9.0" fill="#1a1a1a" stroke="#1a1a1a">LPS</text>
<line x1="363.30" y1="203.50" x2="375.25" y2="203.50" stroke="#333" stroke-width="0.7"/>
<path d="M369.20,205.80 L371.35,201.50 L367.05,201.50 Z" fill="#000"/>
<text transform="translate(381.40,206.60) scale(1,1.1)" x="0" y="0" font-size="9.0" fill="#1a1a1a" stroke="#1a1a1a">LPS+Candida</text>
<text x="280.70" y="224.70" font-size="9.0" font-weight="bold" fill="#111">Neutrophil</text>
<text x="331.60" y="225.40" font-size="8.3" font-style="italic" fill="#3a3a3a" stroke="#3a3a3a">&amp;, p &lt; 0.05 vs Untreated</text>
<path d="M275.50,214.20 L275.50,325.10 L442.00,325.10" fill="none" stroke="#111" stroke-width="1.3"/>
<line x1="271.15" y1="325.10" x2="275.50" y2="325.10" stroke="#111" stroke-width="1.1"/>
<text x="257.88" y="328.10" font-size="8.5" font-weight="bold" fill="#111" xml:space="preserve">0.0</text>
<line x1="271.15" y1="297.38" x2="275.50" y2="297.38" stroke="#111" stroke-width="1.1"/>
<text x="257.88" y="300.38" font-size="8.5" font-weight="bold" fill="#111" xml:space="preserve">0.5</text>
<line x1="271.15" y1="269.65" x2="275.50" y2="269.65" stroke="#111" stroke-width="1.1"/>
<text x="257.88" y="272.65" font-size="8.5" font-weight="bold" fill="#111" xml:space="preserve"> .0</text><path d="M259.97,272.65 L261.33,272.65 L261.33,266.67 L260.35,266.67 L258.14,268.23 L258.14,269.33 L259.97,268.02 Z" fill="#111"/>
<line x1="271.15" y1="241.93" x2="275.50" y2="241.93" stroke="#111" stroke-width="1.1"/>
<text x="257.88" y="244.93" font-size="8.5" font-weight="bold" fill="#111" xml:space="preserve"> .5</text><path d="M259.97,244.93 L261.33,244.93 L261.33,238.95 L260.35,238.95 L258.14,240.51 L258.14,241.61 L259.97,240.29 Z" fill="#111"/>
<line x1="271.15" y1="214.20" x2="275.50" y2="214.20" stroke="#111" stroke-width="1.1"/>
<text x="257.88" y="217.20" font-size="8.5" font-weight="bold" fill="#111" xml:space="preserve">2.0</text>
<line x1="275.50" y1="325.10" x2="275.50" y2="329.90" stroke="#111" stroke-width="1.1"/>
<text x="273.14" y="339.00" font-size="8.5" font-weight="bold" fill="#111" xml:space="preserve">0</text>
<line x1="331.00" y1="325.10" x2="331.00" y2="329.90" stroke="#111" stroke-width="1.1"/>
<text x="328.64" y="339.00" font-size="8.5" font-weight="bold" fill="#111" xml:space="preserve"> </text><path d="M330.72,339.00 L332.08,339.00 L332.08,333.02 L331.10,333.02 L328.89,334.58 L328.89,335.69 L330.72,334.37 Z" fill="#111"/>
<line x1="386.50" y1="325.10" x2="386.50" y2="329.90" stroke="#111" stroke-width="1.1"/>
<text x="384.14" y="339.00" font-size="8.5" font-weight="bold" fill="#111" xml:space="preserve">2</text>
<line x1="442.00" y1="325.10" x2="442.00" y2="329.90" stroke="#111" stroke-width="1.1"/>
<text x="439.64" y="339.00" font-size="8.5" font-weight="bold" fill="#111" xml:space="preserve">3</text>
<text transform="translate(359.05,352.70) scale(1,1.1)" x="0" y="0" font-size="9.0" font-weight="bold" text-anchor="middle" fill="#111">Hours</text>
<text transform="translate(239.90,267.50) rotate(-90) scale(1.11,1)" text-anchor="middle" font-size="9.0" fill="#111" stroke="#111"><tspan font-style="italic" font-weight="bold">TLR4</tspan><tspan font-style="italic"> expression</tspan></text>
<text transform="translate(252.50,269.70) rotate(-90) scale(1.11,1)" text-anchor="middle" font-size="9.0" fill="#111" stroke="#111">(relative to <tspan font-style="italic" font-family="Liberation Serif, serif">β</tspan><tspan font-style="italic">-actin</tspan>)</text>
<polyline points="331.00,269.65 386.50,269.65 442.00,269.65" fill="none" stroke="#1a1a1a" stroke-width="0.7"/>
<path d="M331.50,266.32 L331.50,272.98 M329.40,266.32 L333.60,266.32 M329.40,272.98 L333.60,272.98" stroke="#1a1a1a" stroke-width="0.8" fill="none"/>
<circle cx="331.00" cy="269.65" r="2.30" fill="#000"/>
<circle cx="386.50" cy="269.65" r="2.30" fill="#000"/>
<circle cx="442.00" cy="269.65" r="2.30" fill="#000"/>
<polyline points="331.00,269.65 386.50,283.51 442.00,256.34" fill="none" stroke="#1a1a1a" stroke-width="0.7"/>
<path d="M386.50,269.65 L386.50,297.38 M384.40,269.65 L388.60,269.65 M384.40,297.38 L388.60,297.38" stroke="#1a1a1a" stroke-width="0.8" fill="none"/>
<path d="M442.50,242.48 L442.50,270.20 M440.40,242.48 L444.60,242.48 M440.40,270.20 L444.60,270.20" stroke="#1a1a1a" stroke-width="0.8" fill="none"/>
<path d="M331.00,267.05 L333.45,271.55 L328.55,271.55 Z" fill="#000"/>
<path d="M386.50,280.91 L388.95,285.41 L384.05,285.41 Z" fill="#000"/>
<path d="M442.00,253.74 L444.45,258.24 L439.55,258.24 Z" fill="#000"/>
<polyline points="331.00,313.46 386.50,308.47 442.00,306.25" fill="none" stroke="#1a1a1a" stroke-width="0.7"/>
<path d="M386.50,304.03 L386.50,312.90 M384.40,304.03 L388.60,304.03 M384.40,312.90 L388.60,312.90" stroke="#1a1a1a" stroke-width="0.8" fill="none"/>
<path d="M442.50,298.48 L442.50,314.01 M440.40,298.48 L444.60,298.48 M440.40,314.01 L444.60,314.01" stroke="#1a1a1a" stroke-width="0.8" fill="none"/>
<rect x="328.50" y="310.96" width="5.00" height="5.00" fill="#000"/>
<rect x="384.00" y="305.97" width="5.00" height="5.00" fill="#000"/>
<rect x="439.50" y="303.75" width="5.00" height="5.00" fill="#000"/>
<polyline points="331.00,299.04 386.50,302.37 442.00,290.72" fill="none" stroke="#1a1a1a" stroke-width="0.7"/>
<path d="M331.50,287.95 L331.50,310.13 M329.40,287.95 L333.60,287.95 M329.40,310.13 L333.60,310.13" stroke="#1a1a1a" stroke-width="0.8" fill="none"/>
<path d="M442.50,274.09 L442.50,307.36 M440.40,274.09 L444.60,274.09 M440.40,307.36 L444.60,307.36" stroke="#1a1a1a" stroke-width="0.8" fill="none"/>
<path d="M331.00,301.64 L333.45,297.14 L328.55,297.14 Z" fill="#000"/>
<path d="M386.50,304.97 L388.95,300.47 L384.05,300.47 Z" fill="#000"/>
<path d="M442.00,293.32 L444.45,288.82 L439.55,288.82 Z" fill="#000"/>
<text x="331.30" y="283.60" font-size="8.6" font-weight="bold" text-anchor="middle" fill="#111">&amp;</text>
<text x="323.80" y="309.10" font-size="8.6" font-weight="bold" text-anchor="middle" fill="#111">&amp;</text>
<text x="394.00" y="296.10" font-size="8.6" font-weight="bold" text-anchor="middle" fill="#111">&amp;</text>
<text x="394.00" y="320.20" font-size="8.6" font-weight="bold" text-anchor="middle" fill="#111">&amp;</text>
<text x="433.25" y="240.05" font-size="9.8" font-weight="bold" text-anchor="middle" fill="#111">$</text>
<text x="442.60" y="239.80" font-size="8.6" font-weight="bold" text-anchor="middle" fill="#111">&amp;</text>
<text x="434.80" y="285.50" font-size="8.6" font-weight="bold" text-anchor="middle" fill="#111">&amp;</text>
<text x="434.80" y="303.60" font-size="8.6" font-weight="bold" text-anchor="middle" fill="#111">&amp;</text>
<text x="475.2" y="184.7" font-size="24" font-weight="bold" fill="#000">F</text>
<line x1="514.15" y1="188.50" x2="526.10" y2="188.50" stroke="#333" stroke-width="0.7"/>
<circle cx="520.05" cy="188.50" r="2.05" fill="#000"/>
<text transform="translate(532.60,191.60) scale(1,1.1)" x="0" y="0" font-size="9.0" fill="#1a1a1a" stroke="#1a1a1a">Untreated</text>
<line x1="514.15" y1="203.50" x2="526.10" y2="203.50" stroke="#333" stroke-width="0.7"/>
<path d="M520.05,201.20 L522.20,205.50 L517.90,205.50 Z" fill="#000"/>
<text transform="translate(532.60,206.60) scale(1,1.1)" x="0" y="0" font-size="9.0" fill="#1a1a1a" stroke="#1a1a1a">Candida</text>
<line x1="586.80" y1="188.50" x2="598.75" y2="188.50" stroke="#333" stroke-width="0.7"/>
<rect x="590.45" y="186.25" width="4.50" height="4.50" fill="#000"/>
<text transform="translate(604.90,191.60) scale(1,1.1)" x="0" y="0" font-size="9.0" fill="#1a1a1a" stroke="#1a1a1a">LPS</text>
<line x1="586.80" y1="203.50" x2="598.75" y2="203.50" stroke="#333" stroke-width="0.7"/>
<path d="M592.70,205.80 L594.85,201.50 L590.55,201.50 Z" fill="#000"/>
<text transform="translate(604.90,206.60) scale(1,1.1)" x="0" y="0" font-size="9.0" fill="#1a1a1a" stroke="#1a1a1a">LPS+Candida</text>
<text x="511.80" y="224.70" font-size="9.0" font-weight="bold" fill="#111">Neutrophil</text>
<text x="563.00" y="225.40" font-size="8.3" font-style="italic" fill="#3a3a3a" stroke="#3a3a3a">&amp;, p &lt; 0.05 vs Untreated</text>
<text x="563.00" y="235.60" font-size="8.3" font-style="italic" fill="#3a3a3a" stroke="#3a3a3a">$, p&lt; 0.05 vs LPS</text>
<path d="M506.60,214.20 L506.60,325.10 L673.10,325.10" fill="none" stroke="#111" stroke-width="1.3"/>
<line x1="502.25" y1="325.10" x2="506.60" y2="325.10" stroke="#111" stroke-width="1.1"/>
<text x="496.07" y="328.10" font-size="8.5" font-weight="bold" fill="#111" xml:space="preserve">0</text>
<line x1="502.25" y1="288.13" x2="506.60" y2="288.13" stroke="#111" stroke-width="1.1"/>
<text x="496.07" y="291.13" font-size="8.5" font-weight="bold" fill="#111" xml:space="preserve">2</text>
<line x1="502.25" y1="251.17" x2="506.60" y2="251.17" stroke="#111" stroke-width="1.1"/>
<text x="496.07" y="254.17" font-size="8.5" font-weight="bold" fill="#111" xml:space="preserve">4</text>
<line x1="502.25" y1="214.20" x2="506.60" y2="214.20" stroke="#111" stroke-width="1.1"/>
<text x="496.07" y="217.20" font-size="8.5" font-weight="bold" fill="#111" xml:space="preserve">6</text>
<line x1="506.60" y1="325.10" x2="506.60" y2="329.90" stroke="#111" stroke-width="1.1"/>
<text x="504.24" y="339.00" font-size="8.5" font-weight="bold" fill="#111" xml:space="preserve">0</text>
<line x1="562.10" y1="325.10" x2="562.10" y2="329.90" stroke="#111" stroke-width="1.1"/>
<text x="559.74" y="339.00" font-size="8.5" font-weight="bold" fill="#111" xml:space="preserve"> </text><path d="M561.82,339.00 L563.18,339.00 L563.18,333.02 L562.20,333.02 L559.99,334.58 L559.99,335.69 L561.82,334.37 Z" fill="#111"/>
<line x1="617.60" y1="325.10" x2="617.60" y2="329.90" stroke="#111" stroke-width="1.1"/>
<text x="615.24" y="339.00" font-size="8.5" font-weight="bold" fill="#111" xml:space="preserve">2</text>
<line x1="673.10" y1="325.10" x2="673.10" y2="329.90" stroke="#111" stroke-width="1.1"/>
<text x="670.74" y="339.00" font-size="8.5" font-weight="bold" fill="#111" xml:space="preserve">3</text>
<text transform="translate(590.15,352.70) scale(1,1.1)" x="0" y="0" font-size="9.0" font-weight="bold" text-anchor="middle" fill="#111">Hours</text>
<text transform="translate(478.10,267.40) rotate(-90) scale(1.11,1)" text-anchor="middle" font-size="9.0" fill="#111" stroke="#111"><tspan font-style="italic" font-weight="bold">Dectin-1</tspan><tspan > expression</tspan></text>
<text transform="translate(489.60,270.30) rotate(-90) scale(1.11,1)" text-anchor="middle" font-size="9.0" fill="#111" stroke="#111">(relative to <tspan font-style="italic" font-family="Liberation Serif, serif">β</tspan><tspan font-style="italic">-actin</tspan>)</text>
<polyline points="562.10,306.62 617.60,306.62 673.10,306.62" fill="none" stroke="#1a1a1a" stroke-width="0.7"/>
<circle cx="562.10" cy="306.62" r="2.30" fill="#000"/>
<circle cx="617.60" cy="306.62" r="2.30" fill="#000"/>
<circle cx="673.10" cy="306.62" r="2.30" fill="#000"/>
<polyline points="562.10,306.99 617.60,277.97 673.10,258.01" fill="none" stroke="#1a1a1a" stroke-width="0.7"/>
<path d="M617.50,264.11 L617.50,291.83 M615.40,264.11 L619.60,264.11 M615.40,291.83 L619.60,291.83" stroke="#1a1a1a" stroke-width="0.8" fill="none"/>
<path d="M562.10,304.39 L564.55,308.89 L559.65,308.89 Z" fill="#000"/>
<path d="M617.60,275.37 L620.05,279.87 L615.15,279.87 Z" fill="#000"/>
<path d="M673.10,255.41 L675.55,259.91 L670.65,259.91 Z" fill="#000"/>
<polyline points="562.10,316.23 617.60,313.46 673.10,310.68" fill="none" stroke="#1a1a1a" stroke-width="0.7"/>
<path d="M617.50,310.68 L617.50,316.23 M615.40,310.68 L619.60,310.68 M615.40,316.23 L619.60,316.23" stroke="#1a1a1a" stroke-width="0.8" fill="none"/>
<rect x="559.60" y="313.73" width="5.00" height="5.00" fill="#000"/>
<rect x="615.10" y="310.96" width="5.00" height="5.00" fill="#000"/>
<rect x="670.60" y="308.18" width="5.00" height="5.00" fill="#000"/>
<polyline points="562.10,313.46 617.60,285.73 673.10,311.79" fill="none" stroke="#1a1a1a" stroke-width="0.7"/>
<path d="M617.50,271.87 L617.50,316.23 M615.40,271.87 L619.60,271.87 M615.40,316.23 L619.60,316.23" stroke="#1a1a1a" stroke-width="0.8" fill="none"/>
<path d="M562.10,316.06 L564.55,311.56 L559.65,311.56 Z" fill="#000"/>
<path d="M617.60,288.33 L620.05,283.83 L615.15,283.83 Z" fill="#000"/>
<path d="M673.10,314.39 L675.55,309.89 L670.65,309.89 Z" fill="#000"/>
<text x="666.65" y="252.75" font-size="9.8" font-weight="bold" text-anchor="middle" fill="#111">$</text>
<text x="676.00" y="252.50" font-size="8.6" font-weight="bold" text-anchor="middle" fill="#111">&amp;</text>
<text x="236.2" y="372.2" font-size="24" font-weight="bold" fill="#000">G</text>
<line x1="283.15" y1="367.50" x2="295.10" y2="367.50" stroke="#333" stroke-width="0.7"/>
<circle cx="289.05" cy="367.50" r="2.05" fill="#000"/>
<text transform="translate(301.60,370.60) scale(1,1.1)" x="0" y="0" font-size="9.0" fill="#1a1a1a" stroke="#1a1a1a">Untreated</text>
<line x1="283.15" y1="383.50" x2="295.10" y2="383.50" stroke="#333" stroke-width="0.7"/>
<path d="M289.05,381.20 L291.20,385.50 L286.90,385.50 Z" fill="#000"/>
<text transform="translate(301.60,386.60) scale(1,1.1)" x="0" y="0" font-size="9.0" fill="#1a1a1a" stroke="#1a1a1a">Candida</text>
<line x1="363.40" y1="367.50" x2="375.35" y2="367.50" stroke="#333" stroke-width="0.7"/>
<rect x="367.05" y="365.25" width="4.50" height="4.50" fill="#000"/>
<text transform="translate(381.50,370.60) scale(1,1.1)" x="0" y="0" font-size="9.0" fill="#1a1a1a" stroke="#1a1a1a">LPS</text>
<line x1="363.40" y1="383.50" x2="375.35" y2="383.50" stroke="#333" stroke-width="0.7"/>
<path d="M369.30,385.80 L371.45,381.50 L367.15,381.50 Z" fill="#000"/>
<text transform="translate(381.50,386.60) scale(1,1.1)" x="0" y="0" font-size="9.0" fill="#1a1a1a" stroke="#1a1a1a">LPS+Candida</text>
<text x="280.80" y="404.70" font-size="9.0" font-weight="bold" fill="#111">Neutrophil</text>
<text x="341.00" y="405.40" font-size="8.3" font-style="italic" fill="#3a3a3a" stroke="#3a3a3a">&amp;, p &lt; 0.05 vs Untreated</text>
<path d="M275.60,394.20 L275.60,505.30 L442.10,505.30" fill="none" stroke="#111" stroke-width="1.3"/>
<line x1="271.25" y1="505.30" x2="275.60" y2="505.30" stroke="#111" stroke-width="1.1"/>
<text x="265.07" y="508.30" font-size="8.5" font-weight="bold" fill="#111" xml:space="preserve">0</text>
<line x1="271.25" y1="477.52" x2="275.60" y2="477.52" stroke="#111" stroke-width="1.1"/>
<text x="265.07" y="480.52" font-size="8.5" font-weight="bold" fill="#111" xml:space="preserve"> </text><path d="M267.16,480.52 L268.52,480.52 L268.52,474.55 L267.54,474.55 L265.33,476.10 L265.33,477.21 L267.16,475.89 Z" fill="#111"/>
<line x1="271.25" y1="449.75" x2="275.60" y2="449.75" stroke="#111" stroke-width="1.1"/>
<text x="265.07" y="452.75" font-size="8.5" font-weight="bold" fill="#111" xml:space="preserve">2</text>
<line x1="271.25" y1="421.98" x2="275.60" y2="421.98" stroke="#111" stroke-width="1.1"/>
<text x="265.07" y="424.98" font-size="8.5" font-weight="bold" fill="#111" xml:space="preserve">3</text>
<line x1="271.25" y1="394.20" x2="275.60" y2="394.20" stroke="#111" stroke-width="1.1"/>
<text x="265.07" y="397.20" font-size="8.5" font-weight="bold" fill="#111" xml:space="preserve">4</text>
<line x1="275.60" y1="505.30" x2="275.60" y2="510.10" stroke="#111" stroke-width="1.1"/>
<text x="273.24" y="519.20" font-size="8.5" font-weight="bold" fill="#111" xml:space="preserve">0</text>
<line x1="331.10" y1="505.30" x2="331.10" y2="510.10" stroke="#111" stroke-width="1.1"/>
<text x="328.74" y="519.20" font-size="8.5" font-weight="bold" fill="#111" xml:space="preserve"> </text><path d="M330.82,519.20 L332.18,519.20 L332.18,513.22 L331.20,513.22 L328.99,514.78 L328.99,515.88 L330.82,514.57 Z" fill="#111"/>
<line x1="386.60" y1="505.30" x2="386.60" y2="510.10" stroke="#111" stroke-width="1.1"/>
<text x="384.24" y="519.20" font-size="8.5" font-weight="bold" fill="#111" xml:space="preserve">2</text>
<line x1="442.10" y1="505.30" x2="442.10" y2="510.10" stroke="#111" stroke-width="1.1"/>
<text x="439.74" y="519.20" font-size="8.5" font-weight="bold" fill="#111" xml:space="preserve">3</text>
<text transform="translate(359.15,532.90) scale(1,1.1)" x="0" y="0" font-size="9.0" font-weight="bold" text-anchor="middle" fill="#111">Hours</text>
<text transform="translate(247.20,448.60) rotate(-90) scale(1.11,1)" text-anchor="middle" font-size="9.0" fill="#111" stroke="#111"><tspan font-style="italic" font-weight="bold">NF</tspan><tspan font-style="italic" font-family="Liberation Serif, serif">κ</tspan><tspan font-style="italic" font-weight="bold">B</tspan><tspan > expression</tspan></text>
<text transform="translate(259.70,450.10) rotate(-90) scale(1.11,1)" text-anchor="middle" font-size="9.0" fill="#111" stroke="#111">(relative to <tspan font-style="italic" font-family="Liberation Serif, serif">β</tspan><tspan font-style="italic">-actin</tspan>)</text>
<polyline points="331.10,477.52 386.60,477.52 442.10,477.52" fill="none" stroke="#1a1a1a" stroke-width="0.7"/>
<circle cx="331.10" cy="477.52" r="2.30" fill="#000"/>
<circle cx="386.60" cy="477.52" r="2.30" fill="#000"/>
<circle cx="442.10" cy="477.52" r="2.30" fill="#000"/>
<polyline points="331.10,483.08 386.60,454.47 442.10,439.75" fill="none" stroke="#1a1a1a" stroke-width="0.7"/>
<path d="M386.50,419.75 L386.50,489.19 M384.40,419.75 L388.60,419.75 M384.40,489.19 L388.60,489.19" stroke="#1a1a1a" stroke-width="0.8" fill="none"/>
<path d="M331.10,480.48 L333.55,484.98 L328.65,484.98 Z" fill="#000"/>
<path d="M386.60,451.87 L389.05,456.37 L384.15,456.37 Z" fill="#000"/>
<path d="M442.10,437.15 L444.55,441.65 L439.65,441.65 Z" fill="#000"/>
<polyline points="331.10,483.64 386.60,468.64 442.10,456.69" fill="none" stroke="#1a1a1a" stroke-width="0.7"/>
<path d="M386.50,438.08 L386.50,499.19 M384.40,438.08 L388.60,438.08 M384.40,499.19 L388.60,499.19" stroke="#1a1a1a" stroke-width="0.8" fill="none"/>
<rect x="328.60" y="481.14" width="5.00" height="5.00" fill="#000"/>
<rect x="384.10" y="466.14" width="5.00" height="5.00" fill="#000"/>
<rect x="439.60" y="454.19" width="5.00" height="5.00" fill="#000"/>
<polyline points="331.10,471.97 386.60,483.36 442.10,472.53" fill="none" stroke="#1a1a1a" stroke-width="0.7"/>
<path d="M386.50,480.58 L386.50,486.14 M384.40,480.58 L388.60,480.58 M384.40,486.14 L388.60,486.14" stroke="#1a1a1a" stroke-width="0.8" fill="none"/>
<path d="M331.10,474.57 L333.55,470.07 L328.65,470.07 Z" fill="#000"/>
<path d="M386.60,485.96 L389.05,481.46 L384.15,481.46 Z" fill="#000"/>
<path d="M442.10,475.13 L444.55,470.63 L439.65,470.63 Z" fill="#000"/>
<text x="442.00" y="433.70" font-size="8.6" font-weight="bold" text-anchor="middle" fill="#111">&amp;</text>
<text x="444.00" y="450.50" font-size="8.6" font-weight="bold" text-anchor="middle" fill="#111">&amp;</text>
</g>
</svg>
</body></html>
